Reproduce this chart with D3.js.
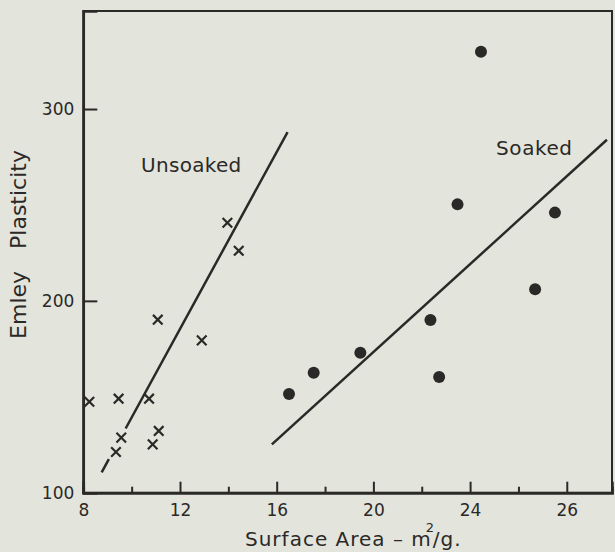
<!DOCTYPE html>
<html>
<head>
<meta charset="utf-8">
<script src="https://cdn.jsdelivr.net/npm/d3@7"></script>
<style>
  body { margin: 0; background: #e3e4db; }
  svg { display: block; }
  text { font-family: "DejaVu Sans", sans-serif; fill: #2b2927; }
</style>
</head>
<body>
<div id="chart-area"></div>
<script>
// Emley plasticity vs surface area
const unsoakedArea = [8.25, 9.46, 10.72, 11.08, 12.90, 9.57, 9.35, 10.87, 11.12, 13.96, 14.43];
const unsoakedPlasticity = [147.4, 149.0, 149.0, 190.2, 179.4, 128.7, 121.2, 125.2, 132.2, 240.7, 226.1];

const soakedArea = [16.51, 17.53, 19.46, 22.36, 22.72, 23.48, 24.45, 26.69, 27.51];
const soakedPlasticity = [151.4, 162.5, 173.0, 190.0, 160.3, 250.3, 329.9, 206.0, 246.0];

// fitted lines (end points)
const unsoakedLineX = [8.76, 16.45];
const unsoakedLineY = [110.6, 288.0];
const soakedLineX = [15.80, 29.66];
const soakedLineY = [125.2, 284.0];

// axis ticks (the last label in the original reads "26")
const xMajorTicks = [8, 12, 16, 20, 24, 28];
const xTickLabels = ["8", "12", "16", "20", "24", "26"];
const xMinorTicks = [10, 14, 18, 22, 26];
const yTicks = [100, 200, 300];

const ink = "#2b2927";
const width = 615, height = 552;

let svg = d3.select("#chart-area").append("svg")
    .attr("width", width)
    .attr("height", height);

const x = d3.scaleLinear()
    .domain([8, 29.87])
    .range([83.3, 612]);

const y = d3.scaleLinear()
    .domain([100, 351.1])
    .range([492.7, 11]);

// frame
svg.append("rect")
    .attr("x", x(8))
    .attr("y", y(351.1))
    .attr("width", x(29.87) - x(8))
    .attr("height", y(100) - y(351.1))
    .attr("fill", "none")
    .attr("stroke", ink)
    .attr("stroke-width", 2);

// x axis
let xAxis = svg.append("g")
    .attr("transform", "translate(0," + y(100) + ")")
    .call(d3.axisBottom(x)
        .tickValues(xMajorTicks)
        .tickSize(-11)
        .tickPadding(11)
        .tickFormat(function (d, i) { return xTickLabels[i]; }));

svg.append("g")
    .attr("transform", "translate(0," + y(100) + ")")
    .call(d3.axisBottom(x)
        .tickValues(xMinorTicks)
        .tickSize(-6)
        .tickFormat(""));

// y axis
let yAxis = svg.append("g")
    .attr("transform", "translate(" + x(8) + ",0)")
    .call(d3.axisLeft(y)
        .tickValues(yTicks)
        .tickSize(-14)
        .tickPadding(9));

svg.selectAll(".domain")
    .attr("stroke", ink)
    .attr("stroke-width", 2.5);
svg.selectAll(".tick line")
    .attr("stroke", ink)
    .attr("stroke-width", 2);
svg.selectAll(".tick text")
    .attr("font-size", 17)
    .attr("font-family", "DejaVu Sans, sans-serif")
    .attr("fill", ink);

// fitted lines
const line = d3.line()
    .x(function (d) { return x(d[0]); })
    .y(function (d) { return y(d[1]); });

svg.append("path")
    .datum(d3.zip(unsoakedLineX, unsoakedLineY))
    .attr("d", line)
    .attr("fill", "none")
    .attr("stroke", ink)
    .attr("stroke-width", 2.5)
    .attr("stroke-dasharray", "15,35,500");

svg.append("path")
    .datum(d3.zip(soakedLineX, soakedLineY))
    .attr("d", line)
    .attr("fill", "none")
    .attr("stroke", ink)
    .attr("stroke-width", 2.5);

// unsoaked: crosses
const s = 4.8;
svg.selectAll(".cross")
    .data(d3.zip(unsoakedArea, unsoakedPlasticity))
    .enter()
    .append("path")
    .attr("class", "cross")
    .attr("transform", function (d) {
        return "translate(" + x(d[0]) + "," + y(d[1]) + ")";
    })
    .attr("d", "M" + -s + "," + -s + "L" + s + "," + s + "M" + s + "," + -s + "L" + -s + "," + s)
    .attr("stroke", ink)
    .attr("stroke-width", 2.2)
    .attr("fill", "none");

// soaked: dots
svg.selectAll(".dot")
    .data(d3.zip(soakedArea, soakedPlasticity))
    .enter()
    .append("circle")
    .attr("class", "dot")
    .attr("cx", function (d) { return x(d[0]); })
    .attr("cy", function (d) { return y(d[1]); })
    .attr("r", 6)
    .attr("fill", ink);

// series labels
svg.append("text")
    .attr("x", 141)
    .attr("y", 172)
    .attr("font-size", 20)
    .attr("letter-spacing", 0.3)
    .text("Unsoaked");

svg.append("text")
    .attr("x", 496)
    .attr("y", 155)
    .attr("font-size", 20)
    .attr("letter-spacing", 0.6)
    .text("Soaked");

// x axis title: "Surface Area – m²/g."
const titleX = 245, titleY = 546;
let tMain = svg.append("text")
    .attr("x", titleX)
    .attr("y", titleY)
    .attr("font-size", 20)
    .attr("letter-spacing", 1)
    .text("Surface Area \u2013 m");
const w = tMain.node().getComputedTextLength();

svg.append("text")
    .attr("x", titleX + w - 6)
    .attr("y", titleY - 14)
    .attr("font-size", 13)
    .text("2");

svg.append("text")
    .attr("x", titleX + w + 1)
    .attr("y", titleY)
    .attr("font-size", 20)
    .attr("letter-spacing", 1)
    .text("/g.");

let yTitle = svg.append("text")
    .attr("transform", "translate(26,244.5) rotate(-90)")
    .attr("text-anchor", "middle")
    .attr("font-size", 22);
yTitle.append("tspan").text("Emley");
yTitle.append("tspan").attr("dx", 22).text("Plasticity");
</script>
</body>
</html>
